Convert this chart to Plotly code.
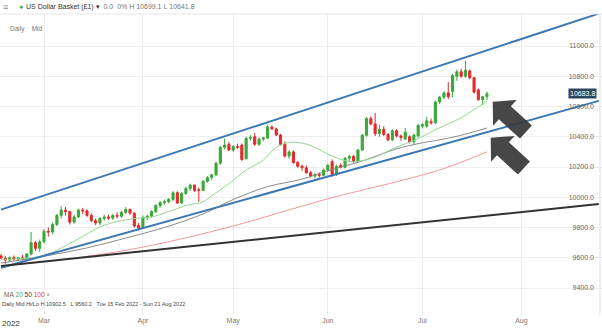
import pandas as pd
import plotly.graph_objects as go

# ---------------- data ----------------
dates = pd.bdate_range("2022-02-15", "2022-07-22")

opens = [9612, 9598, 9585, 9602, 9590, 9600, 9592, 9625, 9700, 9662,
         9705, 9775, 9770, 9820, 9880, 9915, 9905, 9835, 9870, 9915,
         9910, 9880, 9845, 9830, 9860, 9870, 9862, 9880, 9875, 9900,
         9920, 9895, 9815, 9795, 9865, 9875, 9905, 9945, 9965, 9970,
         9985, 10030, 9962, 10025, 10058, 10080, 10050, 10045, 10105, 10130,
         10148, 10225, 10330, 10350, 10312, 10335, 10345, 10255, 10390, 10400,
         10350, 10385, 10392, 10465, 10452, 10412, 10350, 10272, 10300, 10230,
         10205, 10195, 10162, 10140, 10150, 10145, 10180, 10235, 10150, 10210,
         10198, 10258, 10270, 10240, 10312, 10410, 10520, 10485, 10420, 10450,
         10415, 10380, 10440, 10405, 10385, 10400, 10367, 10405, 10470, 10470,
         10500, 10492, 10630, 10662, 10690, 10700, 10800, 10830, 10800, 10835,
         10790, 10710, 10645, 10665]
highs = [9625, 9612, 9608, 9615, 9606, 9618, 9630, 9770, 9712, 9720,
         9790, 9800, 9835, 9890, 9940, 9935, 9910, 9885, 9925, 9930,
         9920, 9895, 9860, 9870, 9885, 9885, 9890, 9900, 9910, 9935,
         9925, 9900, 9830, 9880, 9885, 9915, 9955, 9975, 9985, 9995,
         10040, 10040, 10035, 10070, 10090, 10085, 10065, 10115, 10140, 10155,
         10235, 10340, 10388, 10365, 10345, 10355, 10355, 10400, 10410, 10425,
         10395, 10400, 10482, 10475, 10460, 10420, 10370, 10310, 10310, 10240,
         10215, 10210, 10175, 10160, 10165, 10190, 10220, 10250, 10215, 10225,
         10265, 10280, 10280, 10320, 10420, 10530, 10535, 10557, 10480, 10470,
         10425, 10450, 10450, 10415, 10458, 10410, 10420, 10485, 10490, 10530,
         10520, 10640, 10670, 10700, 10762, 10815, 10845, 10850, 10902.5, 10845,
         10795, 10720, 10670, 10699.1]
lows = [9590, 9560.2, 9572, 9580, 9578, 9582, 9588, 9615, 9645, 9640,
        9695, 9740, 9755, 9810, 9860, 9880, 9820, 9825, 9860, 9890,
        9870, 9835, 9815, 9815, 9845, 9850, 9850, 9860, 9865, 9890,
        9885, 9800, 9780, 9790, 9850, 9865, 9895, 9930, 9950, 9960,
        9975, 9955, 9958, 10015, 10040, 10035, 9970, 10040, 10095, 10115,
        10140, 10215, 10315, 10305, 10300, 10320, 10240, 10250, 10375, 10340,
        10340, 10370, 10385, 10445, 10405, 10340, 10262, 10255, 10220, 10195,
        10175, 10155, 10130, 10125, 10130, 10140, 10165, 10135, 10140, 10190,
        10190, 10240, 10225, 10230, 10305, 10400, 10475, 10405, 10400, 10405,
        10370, 10370, 10395, 10375, 10380, 10355, 10350, 10395, 10455, 10460,
        10480, 10485, 10615, 10650, 10650, 10660, 10770, 10790, 10790, 10780,
        10685, 10640, 10610, 10641.8]
closes = [9598, 9585, 9602, 9590, 9600, 9592, 9625, 9700, 9662, 9705,
          9775, 9770, 9820, 9880, 9915, 9905, 9835, 9870, 9915, 9910,
          9880, 9845, 9830, 9860, 9870, 9862, 9880, 9875, 9900, 9920,
          9895, 9810, 9795, 9865, 9875, 9905, 9945, 9965, 9970, 9985,
          10030, 9962, 10025, 10058, 10080, 10045, 10045, 10105, 10130, 10148,
          10225, 10330, 10345, 10312, 10335, 10330, 10250, 10390, 10395, 10350,
          10385, 10392, 10465, 10452, 10412, 10350, 10272, 10300, 10230, 10205,
          10195, 10162, 10140, 10150, 10145, 10180, 10212, 10150, 10205, 10198,
          10258, 10270, 10240, 10312, 10410, 10520, 10485, 10420, 10450, 10415,
          10380, 10440, 10405, 10395, 10430, 10367, 10410, 10475, 10480, 10505,
          10492, 10630, 10662, 10690, 10665, 10805, 10830, 10800, 10840, 10790,
          10695, 10645, 10665, 10683.8]

ma20_dates = ["2022-02-15", "2022-02-24", "2022-03-02", "2022-03-08", "2022-03-14", "2022-03-17",
              "2022-03-22", "2022-03-28", "2022-03-31", "2022-04-05", "2022-04-11", "2022-04-15",
              "2022-04-21", "2022-04-25", "2022-04-29", "2022-05-05", "2022-05-11", "2022-05-16",
              "2022-05-19", "2022-05-24", "2022-05-27", "2022-06-01", "2022-06-06", "2022-06-09",
              "2022-06-16", "2022-06-22", "2022-06-29", "2022-07-06", "2022-07-11", "2022-07-14",
              "2022-07-19", "2022-07-22"]
ma20_vals = [9590, 9600, 9625, 9680, 9740, 9790, 9825, 9850, 9862, 9870, 9905, 9945,
             9970, 10010, 10090, 10180, 10246, 10330, 10362, 10358, 10330, 10285, 10250, 10235,
             10265, 10320, 10375, 10445, 10485, 10525, 10580, 10635]

ma50_dates = ["2022-02-15", "2022-03-01", "2022-03-15", "2022-03-28", "2022-04-08", "2022-04-21",
              "2022-05-02", "2022-05-12", "2022-05-24", "2022-06-01", "2022-06-13", "2022-06-23",
              "2022-07-01", "2022-07-11", "2022-07-18", "2022-07-22"]
ma50_vals = [9565, 9610, 9665, 9730, 9800, 9890, 9985, 10070, 10120, 10175, 10240, 10320,
             10360, 10390, 10425, 10458]

ma100_dates = ["2022-02-15", "2022-03-08", "2022-04-01", "2022-05-02", "2022-06-01", "2022-06-24",
               "2022-07-08", "2022-07-22"]
ma100_vals = [9545, 9590, 9670, 9810, 9990, 10110, 10190, 10300]

# drawn trend lines (start / end points)
upper_channel_dates = ["2022-02-15", "2022-08-19"]
upper_channel_vals = [9918, 11214]
lower_channel_dates = ["2022-02-15", "2022-08-19"]
lower_channel_vals = [9534, 10637]
support_dates = ["2022-02-15", "2022-08-19"]
support_vals = [9546, 9955]

x_tick_vals = ["2022-03-01", "2022-04-01", "2022-05-02", "2022-06-01", "2022-07-01", "2022-08-01"]
x_tick_text = ["Mar", "Apr", "May", "Jun", "Jul", "Aug"]
y_tick_vals = [9400, 9600, 9800, 10000, 10200, 10400, 10600, 10800, 11000]

# ---------------- layout helpers ----------------
W, H = 602, 330
TOP, BOT = 14, 315
FONT = "Liberation Sans, Arial, sans-serif"
SP = "\u00a0"


def pp(px, py):
    return px / W, (BOT - py) / (BOT - TOP)


weekends = [d.strftime("%Y-%m-%d") for d in pd.date_range("2022-02-12", "2022-07-24") if d.weekday() >= 5]

fig = go.Figure()

fig.add_trace(go.Scatter(x=ma100_dates, y=ma100_vals, mode="lines",
                         line=dict(color="#f29a9a", width=1, shape="spline"), hoverinfo="skip"))
fig.add_trace(go.Scatter(x=ma50_dates, y=ma50_vals, mode="lines",
                         line=dict(color="#8a8a8a", width=1, shape="spline"), hoverinfo="skip"))
fig.add_trace(go.Scatter(x=ma20_dates, y=ma20_vals, mode="lines",
                         line=dict(color="#95d595", width=1, shape="spline"), hoverinfo="skip"))

fig.add_trace(go.Candlestick(
    x=dates, open=opens, high=highs, low=lows, close=closes,
    increasing=dict(line=dict(color="#3aa83a", width=1), fillcolor="#3aa83a"),
    decreasing=dict(line=dict(color="#e32b2b", width=1), fillcolor="#e32b2b"),
    whiskerwidth=0, hoverinfo="skip"))

fig.add_trace(go.Scatter(x=upper_channel_dates, y=upper_channel_vals, mode="lines",
                         line=dict(color="#3b78b4", width=2), hoverinfo="skip"))
fig.add_trace(go.Scatter(x=lower_channel_dates, y=lower_channel_vals, mode="lines",
                         line=dict(color="#3b78b4", width=2), hoverinfo="skip"))
fig.add_trace(go.Scatter(x=support_dates, y=support_vals, mode="lines",
                         line=dict(color="#333333", width=2), hoverinfo="skip"))

shapes = []
# white backing for price labels (covers grid lines only)
x0, _ = pp(572, 0)
x1, _ = pp(598, 0)
shapes.append(dict(type="rect", xref="paper", yref="paper", x0=x0, x1=x1, y0=0, y1=1,
                   fillcolor="white", line=dict(width=0), layer="between"))
# right border
xb, _ = pp(600, 0)
shapes.append(dict(type="line", xref="paper", yref="paper", x0=xb, x1=xb, y0=0, y1=1,
                   line=dict(color="#dddddd", width=1)))
# header separator
_, ys = pp(0, 14)
shapes.append(dict(type="line", xref="paper", yref="paper", x0=0, x1=1, y0=ys, y1=ys,
                   line=dict(color="#e6e6e6", width=1)))


def arrow(tx, ty):
    ux, uy = 0.739, 0.676
    nx, ny = -0.676, 0.739
    pts = [(0, 0), (16.5, -17.5), (16.5, -8.8), (45, -8.8), (45, 8.8), (16.5, 8.8), (16.5, 17.5)]
    path = ""
    for i, (a, b) in enumerate(pts):
        px = tx + a * ux + b * nx
        py = ty + a * uy + b * ny
        X, Y = pp(px, py)
        path += ("M" if i == 0 else "L") + f"{X:.5f},{Y:.5f} "
    return dict(type="path", xref="paper", yref="paper", path=path + "Z",
                fillcolor="rgba(55,55,55,0.92)", line=dict(width=0), layer="above")


shapes.append(arrow(492.7, 101.7))
shapes.append(arrow(490.7, 137.7))

annotations = []


def text(px, py, s, size=7, color="#555", anchor="left", **kw):
    X, Y = pp(px, py)
    annotations.append(dict(x=X, y=Y, xref="paper", yref="paper", text=s, showarrow=False,
                            xanchor=anchor, yanchor="middle", borderpad=0,
                            font=dict(size=size, color=color, family=FONT), **kw))


def gray(s, c="#777"):
    return f"<span style='color:{c}'>{s}</span>"


text(2, 7, "≡", size=9, color="#888")
text(18, 7, "●", size=7, color="#3bb54a")
text(25, 7, "US Dollar Basket (£1)" + SP + "▾" + SP * 2
     + gray("0.0" + SP + SP + "0%" + SP + "H" + SP + f"{highs[-1]:.1f}" + SP + "L" + SP + f"{lows[-1]:.1f}"),
     size=7, color="#333")

text(9, 29, "Daily" + SP * 4 + "Mid", size=6.5, color="#777")

text(3, 294, "MA" + SP + gray("20", "#4caf50") + SP + gray("50", "#333") + SP
     + gray("100", "#e53935") + SP + gray("×", "#888"), size=6.5, color="#666")

text(1, 304, "Daily Mid Hi/Lo H" + SP + f"{max(highs):.1f}" + SP * 3 + "L" + SP + f"{min(lows):.1f}"
     + SP * 3 + "Tue 15 Feb 2022 - Sun 21 Aug 2022", size=5.5, color="#444")

text(1, 323, "2022", size=8, color="#333")

# last price box
annotations.append(dict(x=pp(597, 0)[0], y=closes[-1], xref="paper", yref="y", text=f"{closes[-1]:.1f}",
                        showarrow=False, xanchor="right", yanchor="middle", bgcolor="#2f4661",
                        borderpad=1, font=dict(size=7, color="white", family=FONT)))

fig.update_layout(
    width=W, height=H,
    margin=dict(l=0, r=0, t=TOP, b=H - BOT),
    paper_bgcolor="white", plot_bgcolor="white",
    showlegend=False,
    shapes=shapes, annotations=annotations,
    xaxis=dict(type="date", range=["2022-02-14 18:25", "2022-08-19 18:00"],
               rangebreaks=[dict(values=weekends)],
               rangeslider=dict(visible=False),
               tickvals=x_tick_vals, ticktext=x_tick_text,
               tickfont=dict(size=7, color="#777", family=FONT),
               showgrid=True, gridcolor="#ececec", gridwidth=1,
               zeroline=False, showline=False, ticks=""),
    yaxis=dict(side="right", range=[9221.5, 11211.6], tickvals=y_tick_vals, tickformat=".1f",
               ticklabelposition="inside", ticklabelstandoff=5,
               tickfont=dict(size=7, color="#666", family=FONT),
               showgrid=True, gridcolor="#eeeeee", gridwidth=1,
               zeroline=False, showline=False, ticks=""),
)

fig.write_html("out.html")
